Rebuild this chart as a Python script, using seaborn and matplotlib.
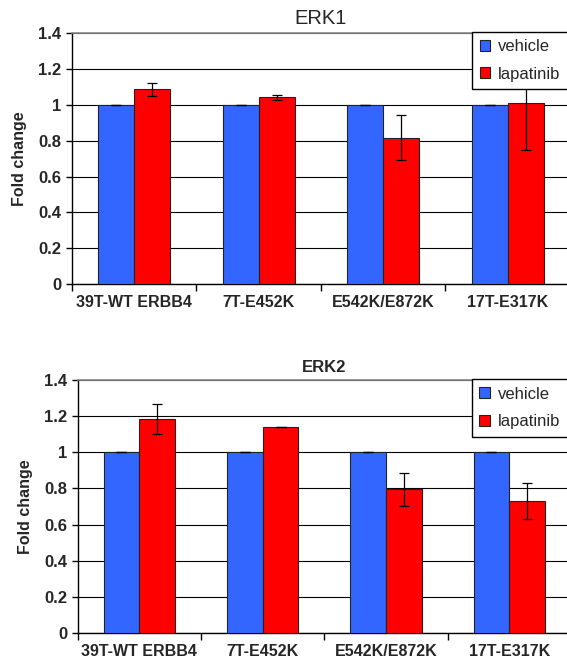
import pandas as pd
import matplotlib
matplotlib.use("Agg")
import matplotlib.pyplot as plt
import seaborn as sns
import numpy as np

categories = ["39T-WT ERBB4", "7T-E452K", "E542K/E872K", "17T-E317K"]
treatments = ["vehicle", "lapatinib"]

erk1_vehicle = [1.0, 1.0, 1.0, 1.0]
erk1_vehicle_err = [0.0, 0.0, 0.0, 0.0]
erk1_lapatinib = [1.085, 1.04, 0.815, 1.01]
erk1_lapatinib_err = [0.035, 0.012, 0.125, 0.265]

erk2_vehicle = [1.0, 1.0, 1.0, 1.0]
erk2_vehicle_err = [0.0, 0.0, 0.0, 0.0]
erk2_lapatinib = [1.185, 1.14, 0.795, 0.73]
erk2_lapatinib_err = [0.085, 0.0, 0.09, 0.1]

yticks = [0, 0.2, 0.4, 0.6, 0.8, 1, 1.2, 1.4]
ytick_labels = ["0", "0.2", "0.4", "0.6", "0.8", "1", "1.2", "1.4"]

colors = ["#3366FF", "#FF0000"]

sns.set_style("white")
plt.rcParams["font.family"] = ["Liberation Sans", "DejaVu Sans"]

fig = plt.figure(figsize=(5.67, 6.62), dpi=100)
ax1 = fig.add_axes([0.127, 0.5705, 0.878, 0.380])
ax2 = fig.add_axes([0.137, 0.0444, 0.870, 0.381])


def draw_panel(ax, vehicle, vehicle_err, lapatinib, lapatinib_err, title, title_size, title_weight, leg_x):
    df = pd.DataFrame({
        "line": categories * 2,
        "fold": vehicle + lapatinib,
        "treatment": ["vehicle"] * len(categories) + ["lapatinib"] * len(categories),
    })
    sns.barplot(data=df, x="line", y="fold", hue="treatment", hue_order=treatments,
                order=categories, palette=colors, width=0.58, gap=0, errorbar=None,
                edgecolor="#222222", linewidth=0.8, saturation=1, ax=ax, zorder=3)

    errs = [vehicle_err, lapatinib_err]
    for cont, err in zip(ax.containers, errs):
        xs = [b.get_x() + b.get_width() / 2 for b in cont]
        ys = [b.get_height() for b in cont]
        ax.errorbar(xs, ys, yerr=err, fmt="none", ecolor="black", elinewidth=0.9,
                    capsize=3.5, capthick=0.9, zorder=4)

    ax.set_ylim(0, 1.4)
    ax.set_xlim(-0.5, len(categories) - 0.5)
    ax.set_yticks(yticks)
    ax.set_yticklabels(ytick_labels, fontsize=12, fontweight="bold")
    ax.yaxis.grid(True, color="black", linewidth=0.8, zorder=0)
    ax.set_axisbelow(True)

    ax.set_xticks(range(len(categories)))
    ax.set_xticklabels(categories, fontsize=11.5, fontweight="bold")
    ax.set_xticks(np.arange(-0.5, len(categories), 1), minor=True)
    ax.tick_params(axis="x", which="major", length=0, pad=8)
    ax.tick_params(axis="x", which="minor", length=5, width=1, direction="out", color="black", bottom=True)
    ax.tick_params(axis="y", length=4, width=1, direction="out", color="black", left=True)

    for side in ["left", "bottom"]:
        ax.spines[side].set_color("black")
        ax.spines[side].set_linewidth(1)
    ax.spines["top"].set_color("#888888")
    ax.spines["top"].set_linewidth(1.2)
    ax.spines["right"].set_visible(False)

    ax.set_xlabel("")
    ax.set_ylabel("Fold change", fontsize=11.5, fontweight="bold", labelpad=8)
    ax.set_title(title, fontsize=title_size, fontweight=title_weight, pad=6)

    # legend box runs off the right edge like in the original
    leg = ax.legend(loc="upper left", bbox_to_anchor=(leg_x, 0.0, 0.25, 1.005), mode="expand",
                    borderaxespad=0, frameon=True, fancybox=False, edgecolor="black", fontsize=12,
                    handlelength=0.65, handleheight=0.65, handletextpad=0.45,
                    labelspacing=0.75, borderpad=0.45)
    leg.get_frame().set_linewidth(1)
    leg.get_frame().set_facecolor("white")
    leg.get_frame().set_alpha(1)
    leg.set_zorder(10)


draw_panel(ax1, erk1_vehicle, erk1_vehicle_err, erk1_lapatinib, erk1_lapatinib_err, "ERK1", 14.5, "normal", 0.8035)
draw_panel(ax2, erk2_vehicle, erk2_vehicle_err, erk2_lapatinib, erk2_lapatinib_err, "ERK2", 12, "bold", 0.799)

fig.savefig("out.png", dpi=100)
